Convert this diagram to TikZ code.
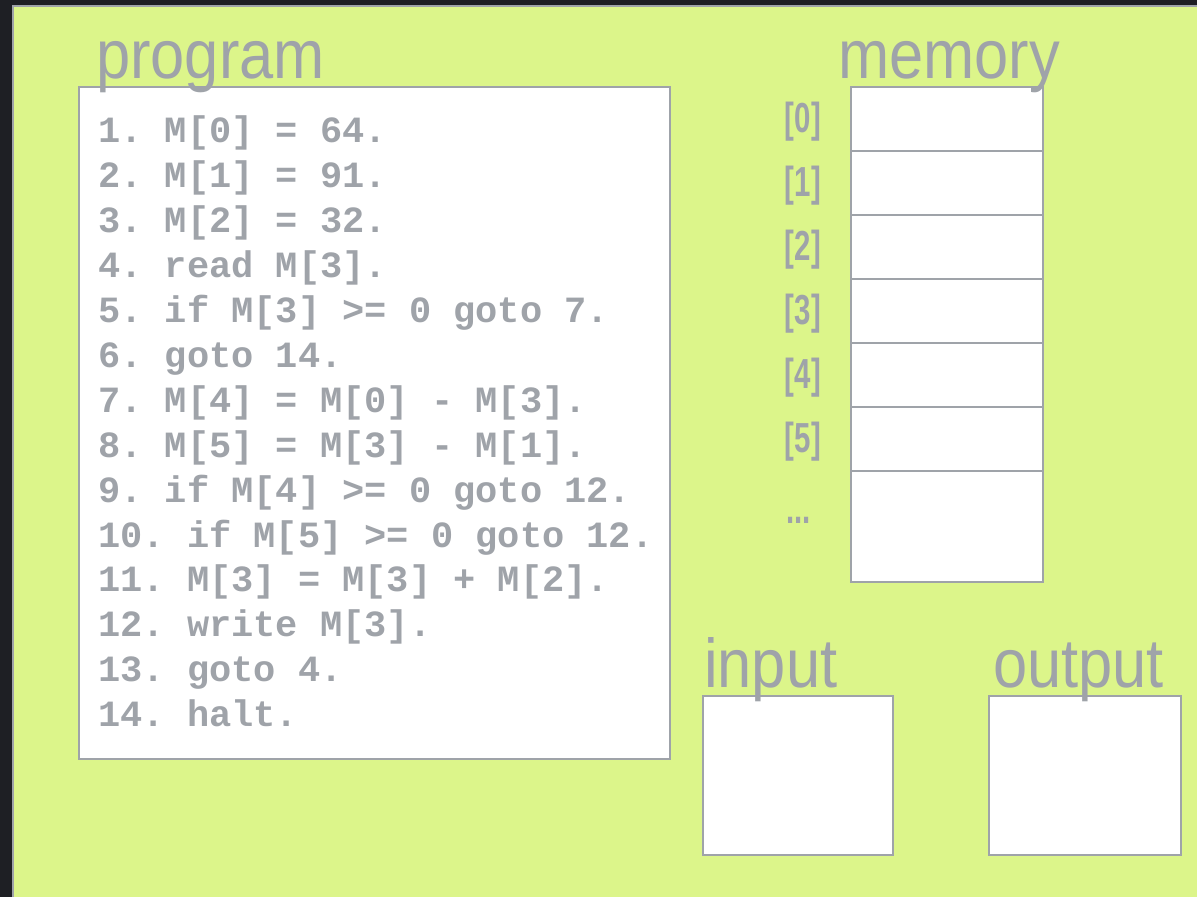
\documentclass[tikz,border=0pt]{standalone}
\usepackage{fontspec}
\setmainfont{Liberation Sans}
\newfontfamily\titlefont[FakeStretch=0.89]{Liberation Sans}
\newfontfamily\idxfont[FakeStretch=0.7]{Liberation Sans}
\newfontfamily\codefont{Liberation Mono}
\usetikzlibrary{positioning}
\definecolor{bgreen}{HTML}{DCF58A}
\definecolor{ink}{HTML}{9FA3A9}
\definecolor{frame}{HTML}{1E1F24}
\tikzset{
  panel/.style={draw=ink, line width=2pt, fill=white, inner sep=0pt, outer sep=0pt},
  cell/.style={panel, minimum width=192pt, minimum height=64pt},
  title/.style={font=\titlefont\fontsize{69}{80}\selectfont, text=ink, inner sep=0pt, anchor=base west},
  idx/.style={font=\idxfont\bfseries\fontsize{42}{46}\selectfont, text=ink, inner sep=0pt},
  codeline/.style={font=\codefont\bfseries\fontsize{37}{45}\selectfont\frenchspacing, text=ink, inner sep=0pt, anchor=base west}
}
\begin{document}
\begin{tikzpicture}[x=1pt,y=-1pt]
    \useasboundingbox (0,0) rectangle (1197,897);
    \fill[frame] (0,0) rectangle (1197,897);
    \filldraw[fill=bgreen, draw=ink, line width=2pt] (13,6) rectangle (1205,905);

    % program
    \node[panel, minimum width=591pt, minimum height=672pt] (prog) at (374.5,423) {};
    \node[title] (progT) at ([xshift=17pt,yshift=9pt]prog.north west) {program};
    \foreach \t [count=\i] in {{1. M[0] = 64.}, {2. M[1] = 91.}, {3. M[2] = 32.},
        {4. read M[3].}, {5. if M[3] >= 0 goto 7.}, {6. goto 14.},
        {7. M[4] = M[0] - M[3].}, {8. M[5] = M[3] - M[1].},
        {9. if M[4] >= 0 goto 12.}, {10. if M[5] >= 0 goto 12.},
        {11. M[3] = M[3] + M[2].}, {12. write M[3].}, {13. goto 4.}, {14. halt.}}
        \node[codeline] (line\i) at (98,{98+44.9*\i}) {\t};

    % memory
    \node[cell] (m0) at (947,119) {};
    \foreach \i [remember=\i as \j (initially 0)] in {1,...,5}
        \node[cell, below=0pt of m\j] (m\i) {};
    \node[cell, minimum height=111pt, below=0pt of m5] (m6) {};
    \foreach \i in {0,...,5}
        \node[idx, left=30pt of m\i, yshift=-3pt] (k\i) {[\i]};
    \node[idx, anchor=west] (dots) at ([xshift=-65pt,yshift=-49pt]m6.north west) {...};
    \node[title] (memT) at ([xshift=-13pt,yshift=9pt]m0.north west) {memory};

    % input / output
    \node[panel, minimum width=190pt, minimum height=159pt] (inbox) at (798,775.5) {};
    \node[title] (inT) at ([xshift=1pt,yshift=9pt]inbox.north west) {input};
    \node[panel, minimum width=192pt, minimum height=159pt] (outbox) at (1085,775.5) {};
    \node[title] (outT) at ([xshift=4pt,yshift=9pt]outbox.north west) {output};
\end{tikzpicture}
\end{document}
